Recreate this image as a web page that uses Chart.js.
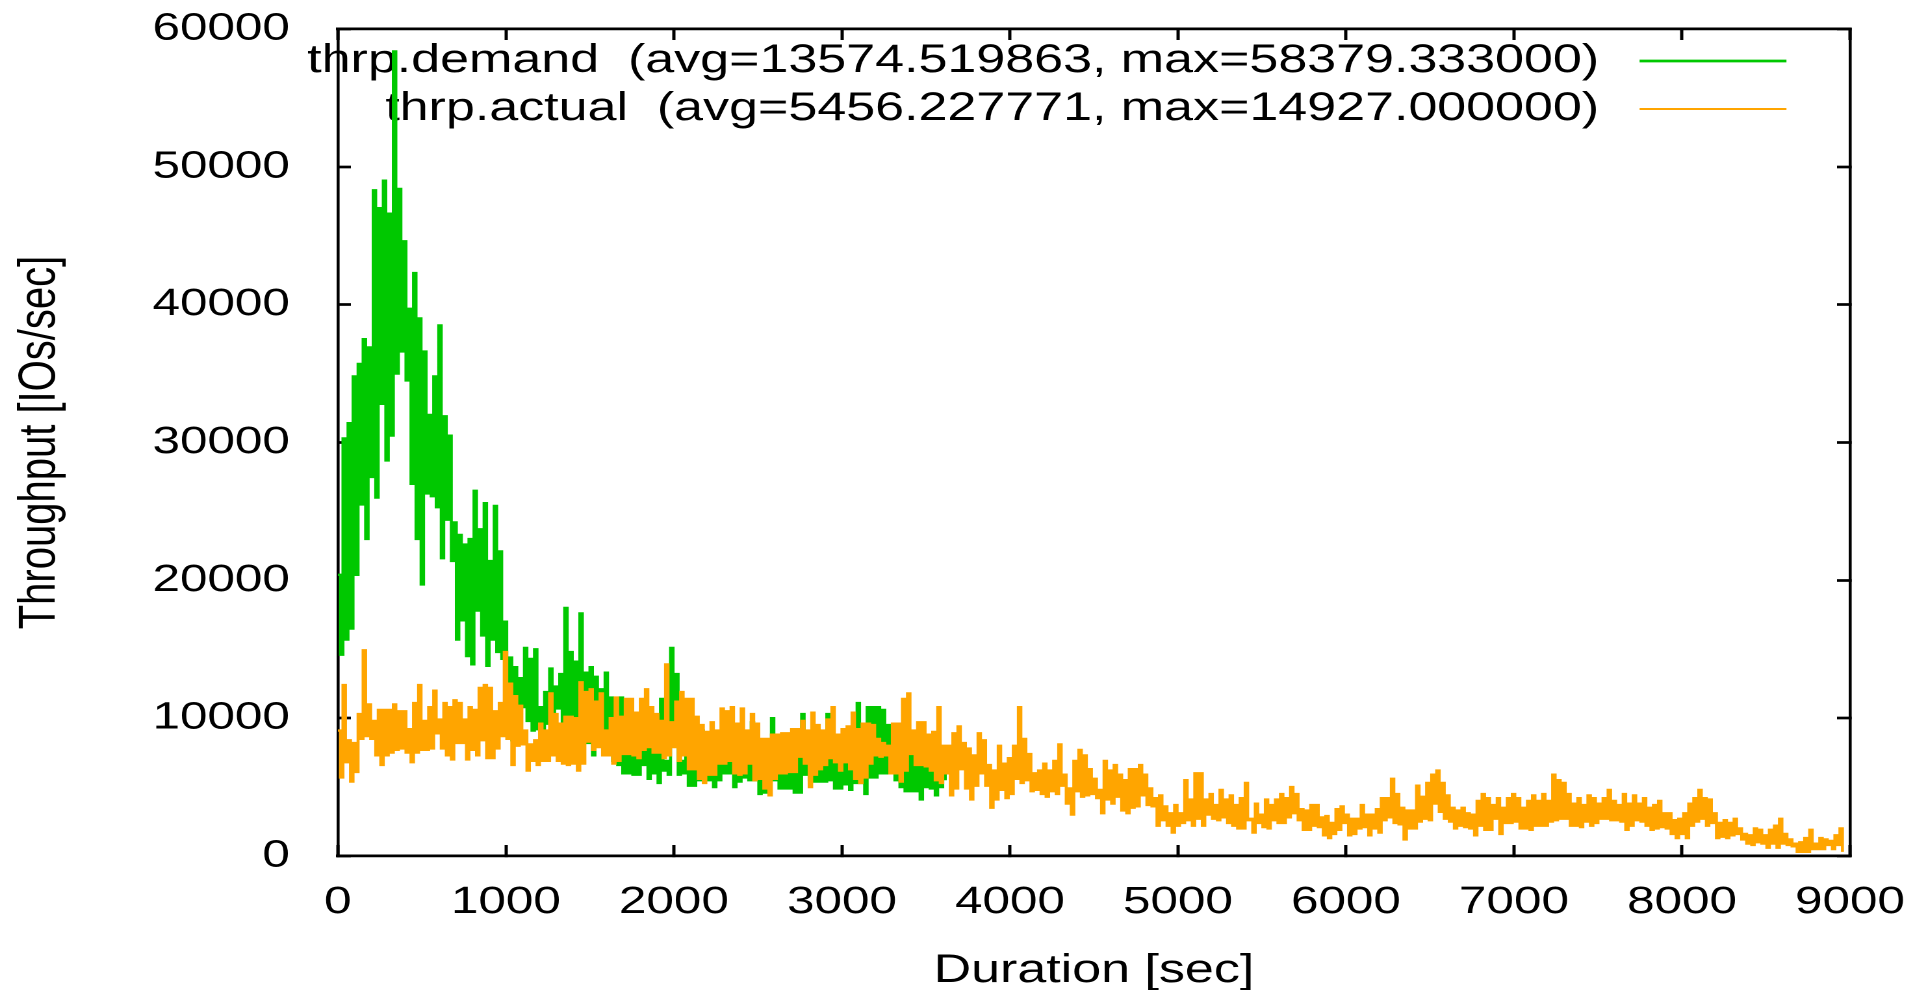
<!DOCTYPE html>
<html>
<head>
<meta charset="utf-8">
<script src="https://cdn.jsdelivr.net/npm/chart.js@4/dist/chart.umd.min.js"></script>
<style>
html,body{margin:0;padding:0;background:#fff;overflow:hidden;width:1926px;height:990px;}
#wrap{position:absolute;left:0;top:0;width:1482px;height:990px;transform:scaleX(1.29960);transform-origin:0 0;}
canvas{display:block;}
</style>
</head>
<body>
<div id="wrap"><canvas id="c" width="1482" height="990"></canvas></div>
<script>
// ---------- DATA ----------
const seriesLabels = [
  'thrp.demand  (avg=13574.519863, max=58379.333000)',
  'thrp.actual  (avg=5456.227771, max=14927.000000)'
];
const bucketSeconds = 30; // each bucket: one peak sample then one dip sample 15 s later
const xTickValues = [0,1000,2000,3000,4000,5000,6000,7000,8000,9000];
const yTickValues = [0,10000,20000,30000,40000,50000,60000];
const xAxisTitle = 'Duration [sec]';
const yAxisTitle = 'Throughput [IOs/sec]';

const demandPeaks = [
 20400,30300,31400,34800,35700,37500,36900,48300,47000,49000,
 46600,58379,48400,44600,39700,42300,39000,36600,32000,34800,
 38500,31900,30500,24200,23300,22600,23000,26500,23700,25600,
 21400,25400,22100,17000,14400,13700,12900,15100,14300,15000,
 10800,11900,13600,12300,13200,18000,14800,14100,17600,13300,
 13700,13000,12100,13300,11500,9200,11500,7700,7300,7400,
 8400,8500,7900,7700,11400,6900,15100,13200,6900,8400,
 8000,8500,9100,8000,7500,8000,8500,8000,7500,8500,
 8000,7800,9700,8000,7500,8000,10000,8000,7800,7500,
 7800,8000,10300,8000,8000,7800,8200,10300,8500,8000,
 8500,8000,8500,11100,8000,10800,10800,10800,10600,9500,
 8500,8500,8000,8500,8000,8000,8500,8000,7500,8000,
 7000
];
const demandDips = [
 14600,15700,16500,20400,25500,23000,27500,26000,32800,28700,
 30500,35000,36600,34500,27000,23000,19700,26300,26100,25300,
 21600,24400,21400,15700,17100,14500,13900,17800,16000,13800,
 15700,14800,14300,12500,8400,10800,10800,9800,9100,9200,
 8500,9600,9700,10700,8900,9200,8900,8900,8900,8200,
 7300,8000,9100,8400,6900,6600,6000,6000,5900,5900,
 6600,5600,6000,5300,6200,5900,8000,5900,6000,5100,
 5100,5500,5500,5500,5000,5500,6000,6000,5000,5400,
 5700,5500,5500,4500,4600,6100,5500,4900,4900,4900,
 4600,4600,5900,5500,5400,5400,5400,5500,4900,4900,
 5200,4800,5300,5300,4500,5700,5700,6000,6000,6000,
 5500,5000,4700,4700,4700,4100,5000,4900,4400,5000,
 5500
];
const actualPeaks = [
 9100,12400,8400,8200,10300,14927,11000,9800,10600,10600,
 10600,11000,10500,10500,9200,11100,12400,9800,10800,12000,
 9900,11100,10800,11300,11100,9900,10800,10600,12200,12400,
 12200,10500,11100,14800,12500,11600,10900,9100,8100,8400,
 9600,9100,11800,10300,9600,10100,10100,10000,12600,11900,
 12100,11200,11800,9100,10000,11500,10100,11400,11400,10400,
 11400,12100,10800,10300,9800,13900,9700,11200,11900,11400,
 11400,10100,9500,9000,9700,9100,10700,10500,10800,9600,
 10700,9100,10300,9600,8500,8500,8800,8800,8900,8900,
 9200,9200,9800,9100,10400,9500,9100,9900,10800,8800,
 9200,9400,10400,9200,9600,9600,9500,8500,8200,8000,
 9600,9600,11400,11800,9100,9700,9700,8800,9000,10800,
 8000,8000,8900,9400,8200,7800,7300,8900,8400,6600,
 6200,8000,6700,7100,8000,10800,8500,7400,6000,6200,
 6700,6200,6900,8100,5900,4900,6900,7700,7300,6300,
 5600,4800,6900,6200,6600,5900,5500,6300,6300,6600,
 5900,4900,4200,4400,3600,3100,3700,3100,5500,4100,
 6000,6000,4100,4500,3700,4800,4100,4400,3700,4200,
 5300,2700,3800,3000,4100,3700,4100,4500,4200,5000,
 4500,3400,3300,3700,3700,2800,2900,2400,3400,3600,
 3000,2700,2700,3700,3000,3000,3400,4200,4200,5600,
 4500,3500,3300,3300,5100,4300,5300,5900,6200,5300,
 4400,3500,3300,3500,3100,3000,4000,4500,4200,3700,
 4200,3500,4200,4500,4200,3500,4000,4400,4000,4500,
 4000,5900,5500,5300,4500,3800,4200,3700,4400,4200,
 3800,4200,4800,4000,3700,4500,3800,4400,3800,4200,
 3500,3700,4000,3100,3100,2600,2700,3100,3800,4200,
 4800,4200,4100,3100,2400,2600,2400,2700,2000,1600,
 1500,2000,1900,1500,1900,2200,2700,1600,1200,900,
 1000,1300,1900,900,1300,1200,1100,1500,2000
];
const actualDips = [
 5700,6800,5400,6100,8500,8700,8500,7300,6600,7300,
 7500,7700,7800,7500,6800,7500,7700,7700,7800,8900,
 7800,7300,7000,8200,8200,7000,7700,7300,8400,7100,
 7100,7800,8700,8500,6600,8000,8100,6200,6900,6600,
 6900,6900,7300,6900,6700,6600,6700,6200,6700,8300,
 7700,7900,7300,7300,6700,6900,7400,7400,7300,7100,
 7700,7900,7500,7500,7100,7300,7900,6900,7300,6300,
 6300,5600,5300,5900,5900,6700,6700,6900,6000,5900,
 6000,6700,5500,5600,4900,4400,5600,6000,6000,6100,
 6100,7200,6700,5000,5900,6300,6600,7100,6800,6200,
 6800,6300,5600,5300,5700,6700,7300,7200,7300,6000,
 6000,5400,6200,7400,6600,6600,6500,6200,5500,5300,
 6000,4400,4900,6300,4900,4100,5100,6000,5100,3500,
 4100,4800,4200,4500,5600,5300,5500,4700,4800,4500,
 4300,4700,4500,5100,3800,3000,4700,4300,4400,4500,
 4200,3100,4100,3800,4300,3300,3100,3500,3600,4400,
 3700,3600,2200,2600,2200,1700,2200,2400,2600,2200,
 2700,2200,3000,2700,2600,2800,2400,2200,2000,2000,
 2600,1700,2400,2100,2000,2600,2400,2400,2800,3100,
 2600,1900,1900,2200,2100,1500,1300,1600,1900,2400,
 1500,1600,2000,2100,1500,2000,1700,2600,2800,2400,
 2300,1200,2000,2000,2500,2700,2600,3800,3200,2700,
 2500,2000,2200,2100,2000,1500,2200,1900,1900,2700,
 1600,2400,2400,2500,2000,2000,1900,2200,2200,2200,
 2500,2600,2700,2700,2200,2200,2100,2500,2200,2400,
 2700,2700,2600,2600,2500,1900,2200,2600,2500,2200,
 1900,2000,2100,2000,1600,1300,1600,1300,2200,2500,
 2700,2200,2400,1300,1400,1300,1500,1600,1200,900,
 800,1000,900,600,900,600,900,800,700,300,
 300,300,500,500,500,800,500,800,300
];

// ---------- helpers ----------
function toPoints(peaks, dips) {
  const pts = [];
  peaks.forEach((p, i) => {
    pts.push({x: i * bucketSeconds, y: p});
    pts.push({x: i * bucketSeconds + bucketSeconds / 2, y: dips[i]});
  });
  return pts;
}
const FONT = '"Liberation Sans", Arial, Helvetica, sans-serif';
Chart.defaults.font.family = FONT;
Chart.defaults.color = '#000';

const fixTicks = values => scale => { scale.ticks = values.map(v => ({value: v})); };
const fitH = h => s => { s.height = h; s.paddingLeft = 0; s.paddingRight = 0; s.paddingTop = 0; s.paddingBottom = 0; };
const fitW = w => s => { s.width = w; s.paddingLeft = 0; s.paddingRight = 0; s.paddingTop = 0; s.paddingBottom = 0; };
const legendLineWidths = [2.7, 2.0];

const legendPlacer = {
  id: 'legendPlacer',
  afterLayout(chart) {
    const lg = chart.legend;
    if (!lg) return;
    const pad = 8;
    const boxRight = 1374.6;
    const w = lg.width, h = lg.height;
    lg.left = boxRight - w + pad;
    lg.right = lg.left + w;
    lg.top = 33;
    lg.bottom = lg.top + h;
  }
};

const tickGrid = (len, width) => ({
  display: true, drawOnChartArea: false, drawTicks: true,
  tickLength: len, tickColor: '#000', tickWidth: width
});

new Chart(document.getElementById('c'), {
  type: 'line',
  data: {
    datasets: [
      {
        label: seriesLabels[0],
        data: toPoints(demandPeaks, demandDips),
        borderColor: '#00c800', backgroundColor: '#00c800',
        borderWidth: 2.3, pointRadius: 0, fill: false, stepped: true,
        borderJoinStyle: 'miter', borderCapStyle: 'butt', order: 1, xAxisID: 'x', yAxisID: 'y'
      },
      {
        label: seriesLabels[1],
        data: toPoints(actualPeaks, actualDips),
        borderColor: '#ffa500', backgroundColor: '#ffa500',
        borderWidth: 2.3, pointRadius: 0, fill: false, stepped: true,
        borderJoinStyle: 'miter', borderCapStyle: 'butt', order: 0, xAxisID: 'x', yAxisID: 'y'
      }
    ]
  },
  options: {
    responsive: false,
    animation: false,
    devicePixelRatio: 2,
    layout: { padding: 0 },
    plugins: {
      tooltip: { enabled: false },
      legend: {
        display: true,
        position: 'chartArea',
        align: 'start',
        rtl: true,
        labels: {
          usePointStyle: true,
          pointStyle: 'line',
          pointStyleWidth: 113,
          padding: 8,
          color: '#000',
          font: { family: FONT, size: 40 },
          generateLabels(chart) {
            const items = Chart.defaults.plugins.legend.labels.generateLabels(chart);
            items.forEach(it => {
              it.text = seriesLabels[it.datasetIndex] + ' ';
              it.lineWidth = legendLineWidths[it.datasetIndex];
            });
            return items.sort((a, b) => a.datasetIndex - b.datasetIndex);
          }
        }
      }
    },
    scales: {
      x: {
        type: 'linear', position: 'bottom', min: 0, max: 9000,
        afterBuildTicks: fixTicks(xTickValues),
        afterFit: fitH(134),
        grid: tickGrid(-11, 2.5),
        border: { display: true, color: '#000', width: 2.7 },
        ticks: { color: '#000', font: { family: FONT, size: 38 }, padding: 34.5,
                 maxRotation: 0, autoSkip: false, callback: v => String(v) },
        title: { display: true, text: xAxisTitle, color: '#000',
                 font: { family: FONT, size: 40 }, padding: { top: 0, bottom: -5 } }
      },
      x2: {
        type: 'linear', position: 'top', min: 0, max: 9000,
        afterBuildTicks: fixTicks(xTickValues),
        afterFit: fitH(29),
        grid: tickGrid(-11, 2.5),
        border: { display: true, color: '#000', width: 2.7 },
        ticks: { display: false }
      },
      y: {
        type: 'linear', position: 'left', min: 0, max: 60000,
        afterBuildTicks: fixTicks(yTickValues),
        afterFit: fitW(260),
        grid: tickGrid(-10, 2.7),
        border: { display: true, color: '#000', width: 2.3 },
        ticks: { color: '#000', font: { family: FONT, size: 38 }, padding: 47,
                 autoSkip: false, callback: v => String(v) },
        title: { display: true, text: yAxisTitle, color: '#000',
                 font: { family: FONT, size: 40 }, padding: { top: 7, bottom: 0 } }
      },
      y2: {
        type: 'linear', position: 'right', min: 0, max: 60000,
        afterBuildTicks: fixTicks(yTickValues),
        afterFit: fitW(58.5),
        grid: tickGrid(-10, 2.7),
        border: { display: true, color: '#000', width: 2.3 },
        ticks: { display: false }
      }
    }
  },
  plugins: [legendPlacer]
});
</script>
</body>
</html>
